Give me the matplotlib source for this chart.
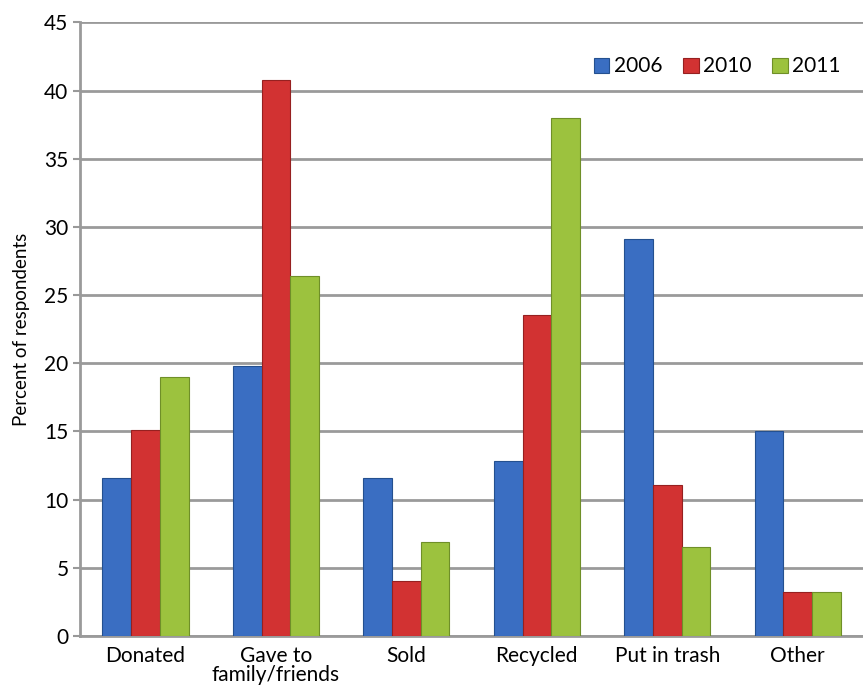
import numpy as np
import matplotlib.pyplot as plt

plt.rcParams['font.family'] = ['Lato', 'DejaVu Sans']

#%% datos
categorias = ['Donated', 'Gave to\nfamily/friends', 'Sold', 'Recycled', 'Put in trash', 'Other']
anyos = ['2006', '2010', '2011']
v2006 = [11.6, 19.8, 11.6, 12.8, 29.1, 15.0]
v2010 = [15.1, 40.8, 4.0, 23.5, 11.1, 3.2]
v2011 = [19.0, 26.4, 6.9, 38.0, 6.5, 3.2]

colores = ['#3a6ec2', '#d23232', '#9cc23e']
bordes = ['#24508f', '#962020', '#6f8f28']

#%% grafica
fig = plt.figure(figsize=(8.63, 6.98), dpi=100)
ax = fig.add_axes([0.093, 0.089, 0.907, 0.879])

x = np.arange(len(categorias))
ancho = 0.22
series = [v2006, v2010, v2011]
for i, vals in enumerate(series):
    ax.bar(x + (i - 1) * ancho, vals, ancho, color=colores[i], edgecolor=bordes[i],
           linewidth=0.8, label=anyos[i], zorder=3)

ax.set_ylim(0, 45)
ax.set_xlim(-0.5, len(categorias) - 0.5)
ax.set_yticks(np.arange(0, 46, 5))
ax.set_xticks(x)
ax.set_xticklabels(categorias, fontsize=15, linespacing=0.95)
ax.tick_params(axis='y', labelsize=15, length=5, color='#999999', width=1.5)
ax.tick_params(axis='x', length=0, pad=7)
ax.yaxis.grid(True, color='#9a9a9a', linewidth=2, zorder=0)
for s in ['top', 'right']:
    ax.spines[s].set_visible(False)
for s in ['left', 'bottom']:
    ax.spines[s].set_color('#9a9a9a')
    ax.spines[s].set_linewidth(2)
ax.set_ylabel('Percent of respondents', fontsize=13.5, labelpad=10)

ax.legend(loc='upper right', bbox_to_anchor=(0.995, 0.975), ncol=3, frameon=False,
          fontsize=15, handlelength=0.75, handleheight=0.75, handletextpad=0.2,
          columnspacing=1.0)

fig.savefig('out.png', dpi=100)
